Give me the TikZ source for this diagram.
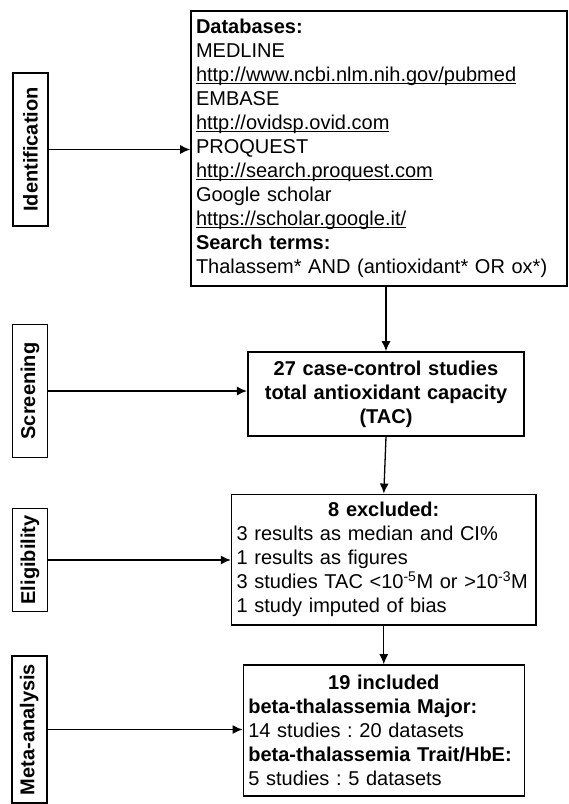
\documentclass[tikz,border=0pt]{standalone}
\usepackage{fontspec}
\setmainfont{Liberation Sans}
\usetikzlibrary{arrows.meta}
\newcommand{\weblink}[1]{\leavevmode\setbox0\hbox{#1}\rlap{\rule[-2.2pt]{\wd0}{1pt}}\box0}
\frenchspacing

\begin{document}
\begin{tikzpicture}[x=1pt,y=-1pt,
	stage/.style={draw, line width=1.6pt, rotate=90, inner sep=0pt, minimum height=35pt,
		font=\fontsize{20}{24}\selectfont\bfseries},
	box/.style={draw, line width=1.6pt, inner xsep=5pt, inner ysep=0pt,
		font=\fontsize{20}{24}\selectfont},
	arr/.style={line width=1.3pt, -{Latex[length=10pt,width=9pt]}}]
\useasboundingbox (0,0) rectangle (569,804);
\node[stage, minimum width=153pt] (ident) at (30.5,149.5) {Identification};
\node[stage, minimum width=133pt] (screen) at (30,391) {Screening};
\node[stage, minimum width=103pt] (elig) at (30,560) {Eligibility};
\node[stage, minimum width=147pt] (meta) at (29.2,729.5) {Meta-analysis};
\node[box, text width=366pt, minimum height=275pt, align=left] (search) at (379,148.5) {%
	\textbf{Databases:}\\
	MEDLINE\\
	\weblink{http://www.ncbi.nlm.nih.gov/pubmed}\\
	EMBASE\\
	\weblink{http://ovidsp.ovid.com}\\
	PROQUEST\\
	\weblink{http://search.proquest.com}\\
	Google scholar\\
	\weblink{https://scholar.google.it/}\\
	\textbf{Search terms:}\\
	Thalassem* AND (antioxidant* OR ox*)};
\node[box, text width=266.5pt, minimum height=84pt, align=center, font=\fontsize{20}{24}\selectfont\bfseries] (tac) at (386,394) {%
	27 case-control studies\\
	total antioxidant capacity\\
	(TAC)};
\node[box, text width=294.3pt, minimum height=130.7pt, align=left] (excl) at (383.8,559.7) {%
	\makebox[\linewidth]{\textbf{8 excluded:}}\\
	3 results as median and CI\%\\
	1 results as figures\\
	3 studies TAC <10\textsuperscript{-5}M or >10\textsuperscript{-3}M\\
	1 study imputed of bias};
\node[box, text width=271pt, minimum height=131pt, align=left] (incl) at (383.8,730.5) {%
	\makebox[\linewidth]{\textbf{19 included}}\\
	\textbf{beta-thalassemia Major:}\\
	14 studies : 20 datasets\\
	\textbf{beta-thalassemia Trait/HbE:}\\
	5 studies : 5 datasets};
\draw[arr] (ident.south) -- (ident.south -| search.west);
\draw[arr] (screen.south) -- (screen.south -| tac.west);
\draw[arr] (elig.south) -- (elig.south -| excl.west);
\draw[arr] (meta.south) -- (meta.south -| incl.west);
\draw[arr] (tac.north |- search.south) -- (tac.north);
\draw[arr] (tac.south) -- (excl.north);
\draw[arr] (excl.south) -- (incl.north);
\end{tikzpicture}
\end{document}
